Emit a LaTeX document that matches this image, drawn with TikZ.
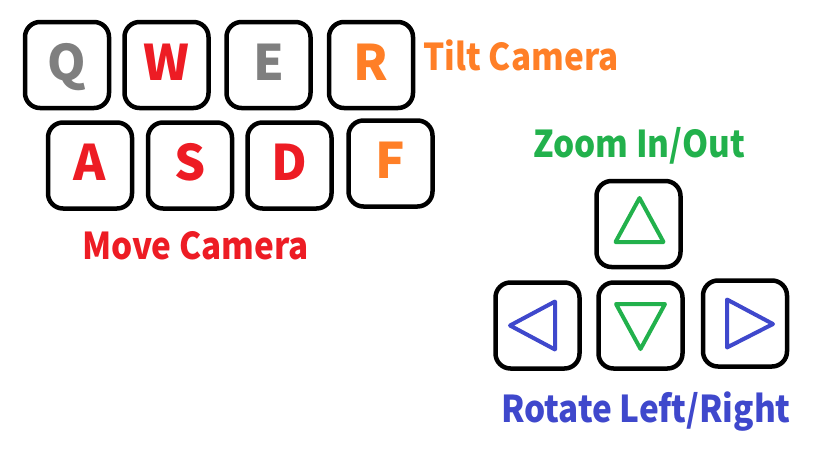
\documentclass[tikz,border=0pt]{standalone}
\usepackage{fontspec}
\setmainfont{Noto Sans CJK KR}
\newfontfamily\lblfont{Noto Sans CJK KR}[FakeStretch=0.9]
\usetikzlibrary{calc}
\definecolor{cgray}{HTML}{7F7F7F}
\definecolor{cred}{HTML}{ED1C24}
\definecolor{corange}{HTML}{FF7F27}
\definecolor{cgreen}{HTML}{22B14C}
\definecolor{cblue}{HTML}{3F48CC}
\tikzset{
  key/.style={draw=black, line width=4.5pt, rounded corners=15pt, minimum width=84pt, minimum height=86pt, inner sep=0pt,
    font=\fontsize{49pt}{49pt}\selectfont\bfseries, text height=36pt, text depth=6pt},
  lbl/.style={anchor=base, inner sep=0pt, font=\lblfont\fontsize{37pt}{37pt}\selectfont\bfseries},
  tri/.style={line width=4pt, line join=round}
}
\begin{document}
\begin{tikzpicture}[x=1pt,y=-1pt]
\useasboundingbox (0,0) rectangle (817,467);
% QWER row
\node[key, text=cgray] (q) at (67,65) {Q};
\node[key, text=cred] (w) at (166.5,65) {W};
\node[key, text=cgray] (e) at (268.5,65) {E};
\node[key, text=corange] (r) at (371,65) {R};
% ASDF row
\node[key, text=cred] (a) at (90,165.5) {A};
\node[key, text=cred] (s) at (190,165.5) {S};
\node[key, text=cred] (d) at (289.5,165.5) {D};
\node[key, text=corange] (f) at (390.5,163.5) {F};
% arrow keys
\node[key] (up) at (638.5,224) {};
\node[key] (left) at (537.5,325.5) {};
\node[key] (down) at (640.5,325.5) {};
\node[key] (right) at (745,323.5) {};
\draw[tri, cgreen] ($(up)+(1,-26)$) -- ($(up)+(-23,18)$) -- ($(up)+(25,18)$) -- cycle;
\draw[tri, cgreen] ($(down)+(-24.5,-21.5)$) -- ($(down)+(24.5,-21.5)$) -- ($(down)+(0,23.5)$) -- cycle;
\draw[tri, cblue] ($(left)+(-27.5,0)$) -- ($(left)+(17.5,-24)$) -- ($(left)+(17.5,24)$) -- cycle;
\draw[tri, cblue] ($(right)+(-18,-24)$) -- ($(right)+(28,0.5)$) -- ($(right)+(-18,24)$) -- cycle;
% labels
\node[lbl, text=corange] (tilt) at (521,70) {Tilt Camera};
\node[lbl, text=cred] (move) at (195.5,259) {Move Camera};
\node[lbl, text=cgreen] (zoom) at (639,157) {Zoom In/Out};
\node[lbl, text=cblue] (rot) at (646,422) {Rotate Left/Right};
\end{tikzpicture}
\end{document}
